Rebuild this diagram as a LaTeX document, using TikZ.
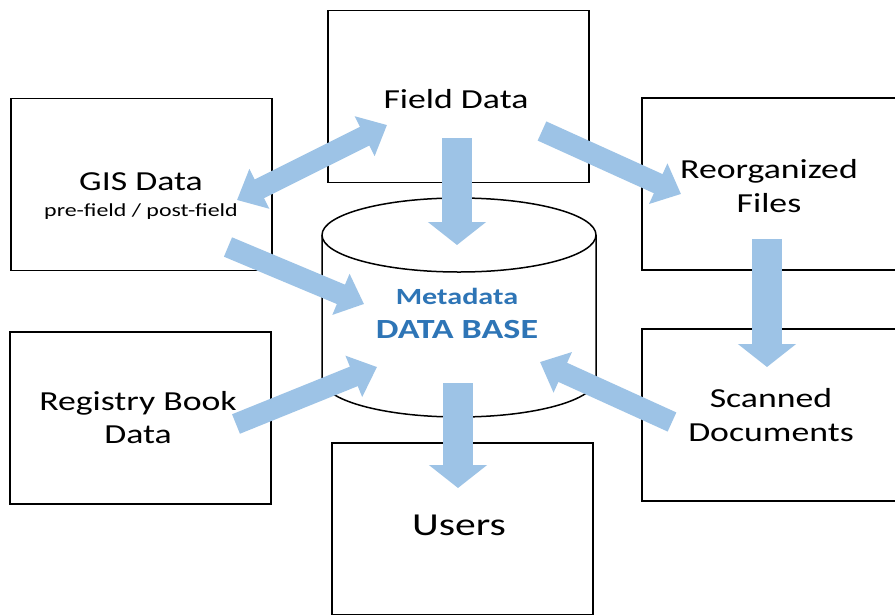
\documentclass[tikz,border=0pt]{standalone}
\usepackage{fontspec}
\setmainfont{Carlito}[FakeStretch=1.3]
\usetikzlibrary{arrows.meta}
\definecolor{arrowblue}{HTML}{9DC3E6}
\definecolor{textblue}{HTML}{2E75B6}
\begin{document}
\begin{tikzpicture}[x=1pt,y=-1pt,
  box/.style={draw=black,line width=1.5pt,fill=white,inner sep=0pt,minimum width=261pt,minimum height=172pt},
  vert/.style={arrowblue,line width=30pt,-{Triangle[width=57pt,length=23pt]}},
  diag/.style={arrowblue,line width=21pt,-{Triangle[width=43pt,length=25pt]}},
  both/.style={arrowblue,line width=21pt,{Triangle[width=43pt,length=25pt]}-{Triangle[width=43pt,length=25pt]}},
  lbl/.style={anchor=base,inner sep=0pt,font=\fontsize{27.5}{32}\selectfont},
  small/.style={anchor=base,inner sep=0pt,font=\fontsize{18.4}{21}\selectfont},
  dbl/.style={anchor=base,inner sep=0pt,text=textblue,font=\bfseries\fontsize{#1}{30}\selectfont}]
\useasboundingbox (0,0) rectangle (895,614);
\fill[white] (0,0) rectangle (895,614);
\clip (0,0) rectangle (895,614);
% boxes
\node[box] (field) at (458.5,96.5) {};
\node[box] (gis) at (141.5,184.5) {};
\node[box] (reorg) at (772.5,184) {};
\node[box] (reg) at (140.5,418) {};
\node[box] (scan) at (772.5,415) {};
\node[box] (users) at (462.5,529) {};
% cylinder
\path[draw=black,line width=1.5pt,fill=white]
  (322,235) -- (322,379) .. controls (322,400) and (383.3,417) .. (459,417)
  .. controls (534.7,417) and (596,400) .. (596,379) -- (596,235)
  .. controls (596,214.6) and (534.7,198) .. (459,198)
  .. controls (383.3,198) and (322,214.6) .. (322,235) -- cycle;
\draw[line width=1.5pt] (322,235) .. controls (322,255.4) and (383.3,272) .. (459,272)
  .. controls (534.7,272) and (596,255.4) .. (596,235);
\coordinate (db) at (459,320);
% labels
\node[lbl] (tfield) at (456,108) {Field Data};
\node[lbl] (tgis) at (141,190) {GIS Data};
\node[small] (tgis2) at (141,216) {pre-field / post-field};
\node[lbl] (treorg1) at (769,178) {Reorganized};
\node[lbl] (treorg2) at (769,212) {Files};
\node[lbl] (treg1) at (138,410) {Registry Book};
\node[lbl] (treg2) at (138,443) {Data};
\node[lbl] (tscan1) at (771,407) {Scanned};
\node[lbl] (tscan2) at (771,441) {Documents};
\node[lbl,font=\fontsize{32}{36}\selectfont] (tusers) at (459,535) {Users};
\node[dbl=23.2] (tmeta) at (457,304) {Metadata};
\node[dbl=27.7] (tdb) at (457,338) {DATA BASE};
% arrow end points
\coordinate (a1s) at (457,138); \coordinate (a1e) at (457,245);
\coordinate (a2s) at (458,383); \coordinate (a2e) at (458,488);
\coordinate (a3s) at (767,239); \coordinate (a3e) at (767,367);
\coordinate (a4s) at (542,131); \coordinate (a4e) at (681,194);
\coordinate (a5s) at (237,200); \coordinate (a5e) at (387,125);
\coordinate (a6s) at (228,247); \coordinate (a6e) at (364,304);
\coordinate (a7s) at (236,424); \coordinate (a7e) at (377,367);
\coordinate (a8s) at (672,422); \coordinate (a8e) at (540,362);
% arrows
\draw[vert] (a1s) -- (a1e);
\draw[vert] (a2s) -- (a2e);
\draw[vert] (a3s) -- (a3e);
\draw[diag] (a4s) -- (a4e);
\draw[both] (a5s) -- (a5e);
\draw[diag] (a6s) -- (a6e);
\draw[diag] (a7s) -- (a7e);
\draw[diag] (a8s) -- (a8e);
\end{tikzpicture}
\end{document}
